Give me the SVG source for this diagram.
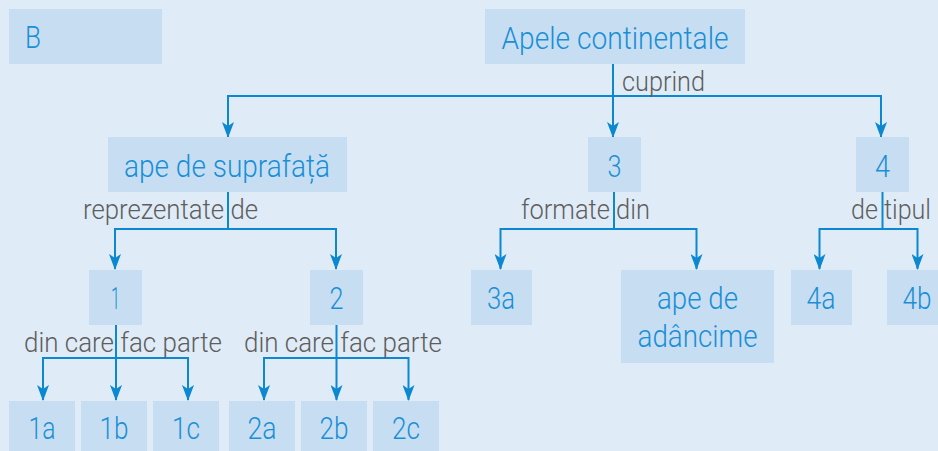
<svg xmlns="http://www.w3.org/2000/svg" width="938" height="451" viewBox="0 0 938 451">
<style>
.box{fill:#c7def2}
.t{font-family:Roboto,"Liberation Sans",sans-serif;font-size:31px;font-weight:300;fill:#1a8fd6;text-anchor:middle}
.l{font-family:Roboto,"Liberation Sans",sans-serif;font-size:28px;font-weight:300;fill:#5e5e5e}
.c{fill:none;stroke:#0b88d0;stroke-width:2}
</style>
<defs>
<marker id="ah" viewBox="0 0 16 12" refX="15" refY="6" markerWidth="16" markerHeight="12" markerUnits="userSpaceOnUse" orient="auto">
<path d="M0,0 L16,6 L0,12 L4,6 Z" fill="#0b88d0"/>
</marker>
</defs>
<rect width="938" height="451" fill="#dfecf8"/>
<g id="connectors">
<path class="c" d="M613,64 V137" marker-end="url(#ah)"/>
<path class="c" d="M228,137 V96 H881 V137" marker-end="url(#ah)"/>
<path class="c" d="M228,96 V137" marker-end="url(#ah)"/>
<path class="c" d="M228,192 V229 H115 V269" marker-end="url(#ah)"/>
<path class="c" d="M228,229 H336 V269" marker-end="url(#ah)"/>
<path class="c" d="M116,325 V400" marker-end="url(#ah)"/>
<path class="c" d="M43,400 V358 H188 V400" marker-end="url(#ah)"/>
<path class="c" d="M43,358 V400" marker-end="url(#ah)"/>
<path class="c" d="M336.5,325 V400" marker-end="url(#ah)"/>
<path class="c" d="M264,400 V358 H408.5 V400" marker-end="url(#ah)"/>
<path class="c" d="M264,358 V400" marker-end="url(#ah)"/>
<path class="c" d="M614,192 V229 H500.5 V269" marker-end="url(#ah)"/>
<path class="c" d="M614,229 H696.5 V269" marker-end="url(#ah)"/>
<path class="c" d="M882.5,192 V229 H819.5 V269" marker-end="url(#ah)"/>
<path class="c" d="M882.5,229 H917.5 V269" marker-end="url(#ah)"/>
</g>
<g id="labels">
<text class="l" x="622" y="91" textLength="83" lengthAdjust="spacingAndGlyphs">cuprind</text>
<text class="l" x="83" y="219" textLength="175" lengthAdjust="spacingAndGlyphs">reprezentate de</text>
<text class="l" x="521" y="219" textLength="129" lengthAdjust="spacingAndGlyphs">formate din</text>
<text class="l" x="851" y="219" font-size="25" textLength="80" lengthAdjust="spacingAndGlyphs">de tipul</text>
<text class="l" x="24" y="352" textLength="198" lengthAdjust="spacingAndGlyphs">din care fac parte</text>
<text class="l" x="244" y="352" textLength="198" lengthAdjust="spacingAndGlyphs">din care fac parte</text>
</g>
<g id="nB"><rect class="box" x="9" y="9" width="153" height="55"/><text class="t" x="33" y="48" textLength="16" lengthAdjust="spacingAndGlyphs">B</text></g>
<g id="nApele"><rect class="box" x="485" y="9" width="260" height="55"/><text class="t" x="615" y="49" textLength="227" lengthAdjust="spacingAndGlyphs">Apele continentale</text></g>
<g id="nSup"><rect class="box" x="108" y="137" width="239" height="55"/><text class="t" x="227" y="177" textLength="206" lengthAdjust="spacingAndGlyphs">ape de suprafață</text></g>
<g id="n3"><rect class="box" x="588" y="137" width="53" height="55"/><text class="t" x="614.5" y="177" textLength="14" lengthAdjust="spacingAndGlyphs">3</text></g>
<g id="n4"><rect class="box" x="856" y="137" width="53" height="55"/><text class="t" x="882.5" y="177" textLength="15" lengthAdjust="spacingAndGlyphs">4</text></g>
<g id="n1"><rect class="box" x="89" y="270" width="53" height="55"/><text class="t" x="115.5" y="309" textLength="9" lengthAdjust="spacingAndGlyphs">1</text></g>
<g id="n2"><rect class="box" x="310" y="270" width="53" height="55"/><text class="t" x="336.5" y="309" textLength="14" lengthAdjust="spacingAndGlyphs">2</text></g>
<g id="n3a"><rect class="box" x="471" y="270" width="61" height="55"/><text class="t" x="501" y="309" textLength="28" lengthAdjust="spacingAndGlyphs">3a</text></g>
<g id="nAdanc"><rect class="box" x="621" y="270" width="153" height="93"/><text class="t" x="697.5" y="309" textLength="81" lengthAdjust="spacingAndGlyphs">ape de</text><text class="t" x="697.5" y="347" textLength="120" lengthAdjust="spacingAndGlyphs">adâncime</text></g>
<g id="n4a"><rect class="box" x="791" y="270" width="61" height="55"/><text class="t" x="821" y="309" textLength="29" lengthAdjust="spacingAndGlyphs">4a</text></g>
<g id="n4b"><rect class="box" x="887" y="270" width="61" height="55"/><text class="t" x="917" y="309" textLength="29" lengthAdjust="spacingAndGlyphs">4b</text></g>
<g id="n1a"><rect class="box" x="9" y="401" width="66" height="55"/><text class="t" x="42" y="439" textLength="27" lengthAdjust="spacingAndGlyphs">1a</text></g>
<g id="n1b"><rect class="box" x="81" y="401" width="66" height="55"/><text class="t" x="114" y="439" textLength="29" lengthAdjust="spacingAndGlyphs">1b</text></g>
<g id="n1c"><rect class="box" x="153" y="401" width="66" height="55"/><text class="t" x="186" y="439" textLength="28" lengthAdjust="spacingAndGlyphs">1c</text></g>
<g id="n2a"><rect class="box" x="229" y="401" width="66" height="55"/><text class="t" x="262" y="439" textLength="29" lengthAdjust="spacingAndGlyphs">2a</text></g>
<g id="n2b"><rect class="box" x="301" y="401" width="66" height="55"/><text class="t" x="334" y="439" textLength="29" lengthAdjust="spacingAndGlyphs">2b</text></g>
<g id="n2c"><rect class="box" x="373" y="401" width="66" height="55"/><text class="t" x="406" y="439" textLength="28" lengthAdjust="spacingAndGlyphs">2c</text></g>
</svg>
